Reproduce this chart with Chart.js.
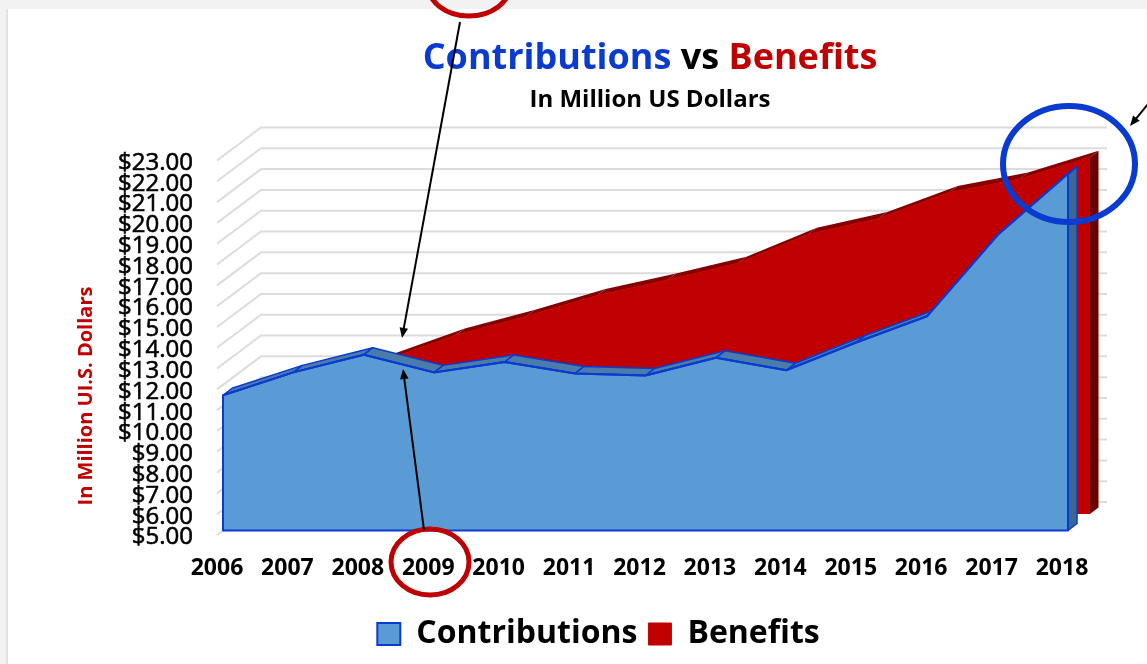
<!DOCTYPE html>
<html>
<head>
<meta charset="utf-8">
<title>Contributions vs Benefits</title>
<script src="https://cdn.jsdelivr.net/npm/chart.js@4/dist/chart.umd.min.js"></script>
<style>
    html, body { margin: 0; padding: 0; background: #f2f2f2; overflow: hidden; }
    #panel { position: absolute; left: 6px; top: 9px; width: 1141px; height: 655px; background: #fff; border-left: 2px solid #e2e2e2; }
    #chart { position: absolute; left: 0; top: 0; }
</style>
</head>
<body>
<div id="panel"></div>
<canvas id="chart" width="1147" height="664"></canvas>
<script>
// ============================================
// DATA (million US dollars)
// ============================================
const years = ['2006', '2007', '2008', '2009', '2010', '2011', '2012', '2013', '2014', '2015', '2016', '2017', '2018'];
const contributions = [11.5, 12.6, 13.45, 12.6, 13.1, 12.55, 12.45, 13.3, 12.7, 14.05, 15.3, 19.2, 22.15];
const benefits = [10.5, 11.5, 12.4, 13.6, 14.5, 15.5, 16.25, 17.05, 18.45, 19.2, 20.45, 21.1, 22.15];

const FONT = '"Open Sans", sans-serif';
const BLUE = '#0a3bd0';
const RED = '#c00000';

// Pseudo-3D setup: each series is a slab pushed back along the same diagonal
const wallDepth = { x: 44, y: -33 };
const slabs = [
    { x: 6, y: -4.5, dx: 9, dy: -7, top: '#4a7cab', side: '#3b6791', edge: BLUE },   // contributions
    { x: 28, y: -21, dx: 8.5, dy: -6.5, top: '#860000', side: '#6a0000', edge: null }  // benefits
];

function polygon(ctx, pts, fill, stroke, width) {
    ctx.beginPath();
    pts.forEach((p, i) => (i ? ctx.lineTo(p.x, p.y) : ctx.moveTo(p.x, p.y)));
    ctx.closePath();
    ctx.fillStyle = fill;
    ctx.fill();
    if (stroke) {
        ctx.strokeStyle = stroke;
        ctx.lineWidth = width;
        ctx.lineJoin = 'round';
        ctx.stroke();
    }
}

// Back wall gridlines with the diagonal run-in from each tick
const wallPlugin = {
    id: 'wall',
    beforeDatasetsDraw(chart) {
        const { ctx, chartArea } = chart;
        const yScale = chart.scales.y;
        ctx.save();
        ctx.strokeStyle = '#dcdcdc';
        ctx.lineWidth = 2;
        yScale.ticks.forEach((t) => {
            const y = yScale.getPixelForValue(t.value);
            ctx.beginPath();
            ctx.moveTo(chartArea.left, y);
            ctx.lineTo(chartArea.left + wallDepth.x, y + wallDepth.y);
            ctx.lineTo(chartArea.right + wallDepth.x + 1, y + wallDepth.y);
            ctx.stroke();
        });
        ctx.restore();
    }
};

// Draws each line dataset as a solid slab: side, top faces, then the front
const slabPlugin = {
    id: 'slab',
    beforeDatasetDraw(chart, args) {
        const { ctx } = chart;
        const slab = slabs[args.index];
        const ds = chart.data.datasets[args.index];
        const base = chart.scales.y.getPixelForValue(chart.scales.y.min) + slab.y;
        const front = args.meta.data.map((p) => ({ x: p.x + slab.x, y: p.y + slab.y }));
        const back = (p) => ({ x: p.x + slab.dx, y: p.y + slab.dy });
        const first = front[0];
        const last = front[front.length - 1];

        ctx.save();
        polygon(ctx, [last, back(last), { x: last.x + slab.dx, y: base + slab.dy }, { x: last.x, y: base }], slab.side, slab.edge, 1.5);
        for (let i = 0; i < front.length - 1; i++) {
            polygon(ctx, [front[i], front[i + 1], back(front[i + 1]), back(front[i])], slab.top, slab.edge, 1.5);
        }
        polygon(ctx, [{ x: first.x, y: base }, ...front, { x: last.x, y: base }], ds.backgroundColor, slab.edge, 2);
        ctx.translate(slab.x, slab.y);
        args.meta.controller.draw();
        ctx.restore();
        return false;
    }
};

// Two-colour heading, axis caption and the hand-drawn call-outs on top of the chart
const overlayPlugin = {
    id: 'overlay',
    beforeDraw(chart) {
        // legend sits off-centre, to the right of the page middle
        chart.legend.left = 50;
        chart.legend.right = 1147;
        chart.legend.top = 607;
    },
    afterDraw(chart) {
        const { ctx } = chart;
        ctx.save();
        ctx.textBaseline = 'middle';

        ctx.font = 'bold 36px ' + FONT;
        const parts = [['Contributions', BLUE], [' vs ', '#000'], ['Benefits', RED]];
        let x = 650 - parts.reduce((w, p) => w + ctx.measureText(p[0]).width, 0) / 2;
        ctx.textAlign = 'left';
        parts.forEach(([text, color]) => {
            ctx.fillStyle = color;
            ctx.fillText(text, x, 59);
            x += ctx.measureText(text).width;
        });

        ctx.textAlign = 'center';
        ctx.fillStyle = '#000';
        ctx.font = 'bold 24px ' + FONT;
        ctx.fillText('In Million US Dollars', 650, 100);

        ctx.translate(86, 396);
        ctx.rotate(-Math.PI / 2);
        ctx.fillStyle = RED;
        ctx.font = 'bold 20px ' + FONT;
        ctx.fillText('In Million UI.S. Dollars', 0, 0);
        ctx.restore();

        drawRing(ctx, 469, -15, 41, 31, RED, 5);
        drawRing(ctx, 430, 562, 39, 33, RED, 5);
        drawRing(ctx, 1069, 164, 66, 58, BLUE, 6);
        drawArrow(ctx, 460, 22, 402, 338);
        drawArrow(ctx, 424, 530, 403, 369);
        drawArrow(ctx, 1148, 104, 1130, 126);
    }
};

function drawRing(ctx, cx, cy, rx, ry, color, width) {
    ctx.save();
    ctx.strokeStyle = color;
    ctx.lineWidth = width;
    ctx.beginPath();
    ctx.ellipse(cx, cy, rx, ry, 0, 0, Math.PI * 2);
    ctx.stroke();
    ctx.restore();
}

function drawArrow(ctx, x1, y1, x2, y2) {
    const a = Math.atan2(y2 - y1, x2 - x1);
    const head = 11;
    ctx.save();
    ctx.strokeStyle = '#000';
    ctx.fillStyle = '#000';
    ctx.lineWidth = 2;
    ctx.beginPath();
    ctx.moveTo(x1, y1);
    ctx.lineTo(x2 - Math.cos(a) * head * 0.7, y2 - Math.sin(a) * head * 0.7);
    ctx.stroke();
    ctx.beginPath();
    ctx.moveTo(x2, y2);
    ctx.lineTo(x2 - head * Math.cos(a - 0.4), y2 - head * Math.sin(a - 0.4));
    ctx.lineTo(x2 - head * Math.cos(a + 0.4), y2 - head * Math.sin(a + 0.4));
    ctx.closePath();
    ctx.fill();
    ctx.restore();
}

// ============================================
// CHART
// ============================================
new Chart(document.getElementById('chart').getContext('2d'), {
    type: 'line',
    data: {
        labels: years,
        datasets: [
            {
                label: 'Contributions',
                data: contributions,
                backgroundColor: '#5b9bd5',
                borderColor: BLUE,
                borderWidth: 2,
                pointRadius: 0,
                tension: 0,
                clip: false
            },
            {
                label: 'Benefits',
                data: benefits,
                backgroundColor: RED,
                borderColor: RED,
                borderWidth: 1,
                pointRadius: 0,
                tension: 0,
                clip: false
            }
        ]
    },
    options: {
        responsive: false,
        animation: false,
        layout: { padding: { top: 160.5, right: 85, left: 0, bottom: 0 } },
        plugins: {
            title: { display: false },
            tooltip: { enabled: false },
            legend: {
                position: 'bottom',
                labels: {
                    boxWidth: 23,
                    boxHeight: 22,
                    padding: 11,
                    color: '#000',
                    font: { family: FONT, size: 32, weight: 'bold' }
                }
            }
        },
        scales: {
            x: {
                offset: false,
                grid: { display: false },
                border: { display: false },
                ticks: {
                    autoSkip: false,
                    maxRotation: 0,
                    padding: 12,
                    color: '#000',
                    font: { family: FONT, size: 23, weight: 'bold' }
                },
                afterFit(scale) {
                    scale.height = 129 - scale.chart.legend.height;
                }
            },
            y: {
                min: 5,
                max: 23,
                grid: { display: false },
                border: { display: false },
                ticks: {
                    stepSize: 1,
                    autoSkip: false,
                    padding: 16,
                    color: '#000',
                    labelOffset: 2.5,
                    textStrokeColor: '#000',
                    textStrokeWidth: 0.6,
                    font: { family: FONT, size: 24 },
                    callback: (v) => '$' + v.toFixed(2)
                },
                afterFit(scale) {
                    scale.width = 217;
                }
            }
        }
    },
    plugins: [wallPlugin, slabPlugin, overlayPlugin]
});
</script>
</body>
</html>
